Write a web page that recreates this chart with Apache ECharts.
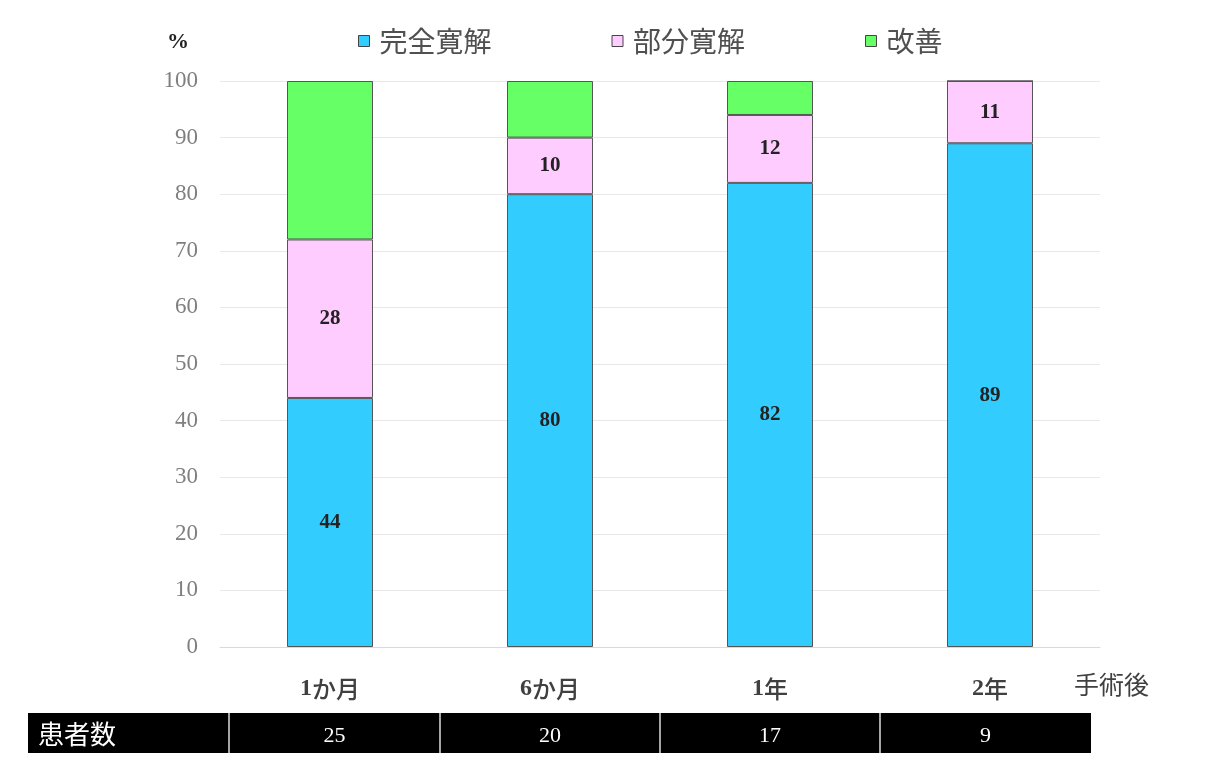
<!DOCTYPE html>
<html>
<head>
<meta charset="utf-8">
<script src="https://cdn.jsdelivr.net/npm/echarts@6/dist/echarts.min.js"></script>
<style>
  html, body { margin: 0; padding: 0; background: #fff; }
  #chart { width: 1211px; height: 777px; }
</style>
</head>
<body>
<div id="chart"></div>
<script>
var categories = ['1か月', '6か月', '1年', '2年'];
var complete = [44, 80, 82, 89];
var partial = [28, 10, 12, 11];
var improved = [28, 10, 6, 0];
var patients = [25, 20, 17, 9];
var seriesNames = ['完全寛解', '部分寛解', '改善'];
var yTicks = [0, 10, 20, 30, 40, 50, 60, 70, 80, 90, 100];

var serif = '"Liberation Serif", "Times New Roman", serif';
var cjk = '"Noto Sans CJK JP", sans-serif';

var myChart = echarts.init(document.getElementById('chart'));

function barSeries(name, data, color, showLabel) {
  return {
    name: name,
    type: 'bar',
    stack: 'all',
    barWidth: 86,
    data: data,
    itemStyle: { color: color, borderColor: '#555', borderWidth: 1 },
    label: {
      show: showLabel,
      position: 'inside',
      color: '#222',
      fontFamily: serif,
      fontWeight: 'bold',
      fontSize: 21
    }
  };
}

var option = {
  animation: false,
  backgroundColor: '#fff',
  legend: {
    top: 22,
    left: 353,
    itemGap: 120,
    itemWidth: 11,
    itemHeight: 11,
    icon: 'rect',
    itemStyle: { borderColor: '#444', borderWidth: 1 },
    textStyle: { fontFamily: cjk, fontSize: 28, color: '#505050', padding: [0, 0, 0, 5] },
    data: seriesNames
  },
  grid: { left: 220, right: 111, top: 81, bottom: 130 },
  xAxis: {
    type: 'category',
    data: categories,
    axisLine: { lineStyle: { color: '#d9d9d9' } },
    axisTick: { show: false },
    axisLabel: {
      margin: 30,
      formatter: function (v) {
        // digit in bold serif, the rest in a CJK face
        var m = v.match(/^(\d+)(.*)$/);
        return '{n|' + m[1] + '}{j|' + m[2] + '}';
      },
      rich: {
        n: { color: '#404040', fontFamily: serif, fontWeight: 'bold', fontSize: 24 },
        j: { color: '#404040', fontFamily: cjk, fontWeight: 500, fontSize: 24 }
      }
    }
  },
  yAxis: {
    type: 'value',
    min: yTicks[0],
    max: yTicks[yTicks.length - 1],
    interval: 10,
    axisLine: { show: false },
    axisTick: { show: false },
    splitLine: { lineStyle: { color: '#e8e8e8' } },
    axisLabel: { margin: 22, color: '#7f7f7f', fontFamily: serif, fontSize: 23 }
  },
  series: [
    barSeries(seriesNames[0], complete, '#33CCFF', true),
    barSeries(seriesNames[1], partial, '#FFCCFF', true),
    barSeries(seriesNames[2], improved, '#66FF66', false)
  ]
};
myChart.setOption(option);

// table of patient counts, cells aligned with the category bands
var gridTop = 713, rowH = 40;
var c0 = myChart.convertToPixel({ xAxisIndex: 0 }, categories[0]);
var c1 = myChart.convertToPixel({ xAxisIndex: 0 }, categories[1]);
var band = c1 - c0;
var edges = [28];
for (var k = 0; k < categories.length; k++) {
  edges.push(Math.round(c0 + (k - 0.5) * band) + (k === 0 ? 9 : 0));
}
edges.push(Math.round(c0 + (categories.length - 0.5) * band) - 9);

var graphics = [
  { type: 'text', left: 167, top: 31, style: { text: '%', font: 'bold 22px ' + serif, fill: '#222' } },
  { type: 'text', left: 1074, top: 672, style: { text: '手術後', font: '25px ' + cjk, fill: '#404040' } },
  { type: 'rect', shape: { x: edges[0], y: gridTop, width: edges[edges.length - 1] - edges[0], height: rowH }, style: { fill: '#000' } }
];
for (var j = 1; j < edges.length - 1; j++) {
  graphics.push({ type: 'line', shape: { x1: edges[j], y1: gridTop, x2: edges[j], y2: gridTop + rowH }, style: { stroke: '#ddd', lineWidth: 1.5 } });
}
graphics.push({ type: 'text', x: 38, y: gridTop + rowH / 2 + 1, style: { text: '患者数', font: '26px ' + cjk, fill: '#fff', verticalAlign: 'middle' } });
for (var p = 0; p < patients.length; p++) {
  graphics.push({
    type: 'text',
    x: (edges[p + 1] + edges[p + 2]) / 2,
    y: gridTop + rowH / 2 + 3,
    style: { text: String(patients[p]), font: '22px ' + serif, fill: '#fff', align: 'center', verticalAlign: 'middle' }
  });
}
myChart.setOption({ graphic: graphics });
</script>
</body>
</html>
